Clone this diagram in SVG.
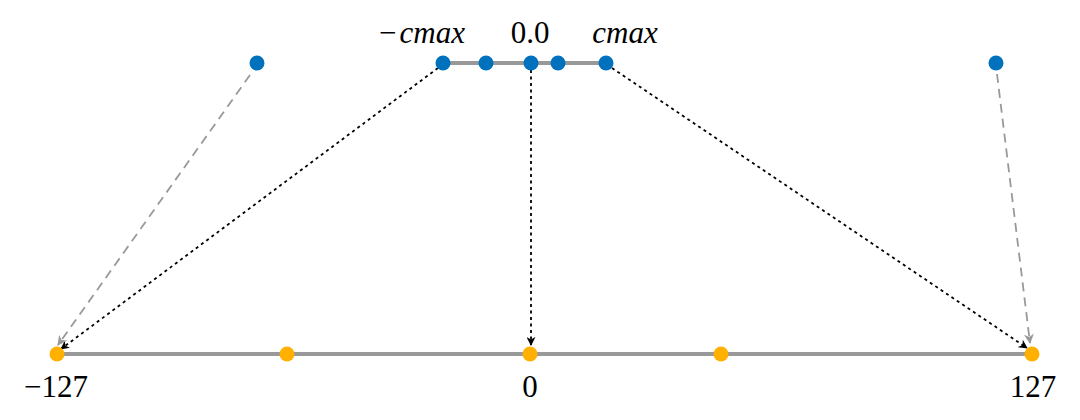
<svg xmlns="http://www.w3.org/2000/svg" width="1080" height="420" viewBox="0 0 1080 420">
<style>
.axis{stroke:#999;stroke-width:4;fill:none}
.dot-b{fill:#0072BD}
.dot-o{fill:#FFB000}
.map{stroke:#000;stroke-width:1.8;stroke-dasharray:3 3.5;fill:none}
.clip{stroke:#999;stroke-width:1.8;stroke-dasharray:9 6;fill:none}
.lbl{font-family:'Liberation Serif','Times New Roman',serif;font-size:31px;fill:#000;text-anchor:middle}
.it{font-style:italic}
</style>
<defs>
<marker id="ab" viewBox="0 0 10 10" refX="9" refY="5" markerWidth="9" markerHeight="9" markerUnits="userSpaceOnUse" orient="auto">
<path d="M0,0 L10,5 L0,10 L3,5 Z" fill="#000"/>
</marker>
<marker id="ag" viewBox="0 0 10 10" refX="9" refY="5" markerWidth="10" markerHeight="10" markerUnits="userSpaceOnUse" orient="auto">
<path d="M0,0 L10,5 L0,10 L3,5 Z" fill="#999"/>
</marker>
</defs>
<g id="axes">
<line class="axis" x1="443" y1="63" x2="606" y2="63"/>
<line class="axis" x1="57" y1="354" x2="1032" y2="354"/>
</g>
<g id="connectors">
<line class="map" x1="438" y1="68" x2="61" y2="349" marker-end="url(#ab)"/>
<line class="map" x1="531" y1="70" x2="531" y2="345" marker-end="url(#ab)"/>
<line class="map" x1="612" y1="68" x2="1027" y2="348" marker-end="url(#ab)"/>
<line class="clip" x1="250" y1="75" x2="58" y2="345" marker-end="url(#ag)"/>
<line class="clip" x1="997" y1="74" x2="1030" y2="343" marker-end="url(#ag)"/>
</g>
<g id="top-points">
<circle class="dot-b" cx="257" cy="63" r="7.5"/>
<circle class="dot-b" cx="443" cy="63" r="7.5"/>
<circle class="dot-b" cx="486" cy="63" r="7.5"/>
<circle class="dot-b" cx="531" cy="63" r="7.5"/>
<circle class="dot-b" cx="558" cy="63" r="7.5"/>
<circle class="dot-b" cx="606" cy="63" r="7.5"/>
<circle class="dot-b" cx="996" cy="63" r="7.5"/>
</g>
<g id="bottom-points">
<circle class="dot-o" cx="57" cy="354" r="7.5"/>
<circle class="dot-o" cx="287" cy="354" r="7.5"/>
<circle class="dot-o" cx="530" cy="354" r="7.5"/>
<circle class="dot-o" cx="721" cy="354" r="7.5"/>
<circle class="dot-o" cx="1032" cy="354" r="7.5"/>
</g>
<g id="labels">
<text class="lbl" x="422" y="43">−<tspan class="it" dx="3">cmax</tspan></text>
<text class="lbl" x="530" y="43">0.0</text>
<text class="lbl it" x="625" y="43">cmax</text>
<text class="lbl" x="56" y="397">−127</text>
<text class="lbl" x="530" y="397">0</text>
<text class="lbl" x="1033" y="397">127</text>
</g>
</svg>
